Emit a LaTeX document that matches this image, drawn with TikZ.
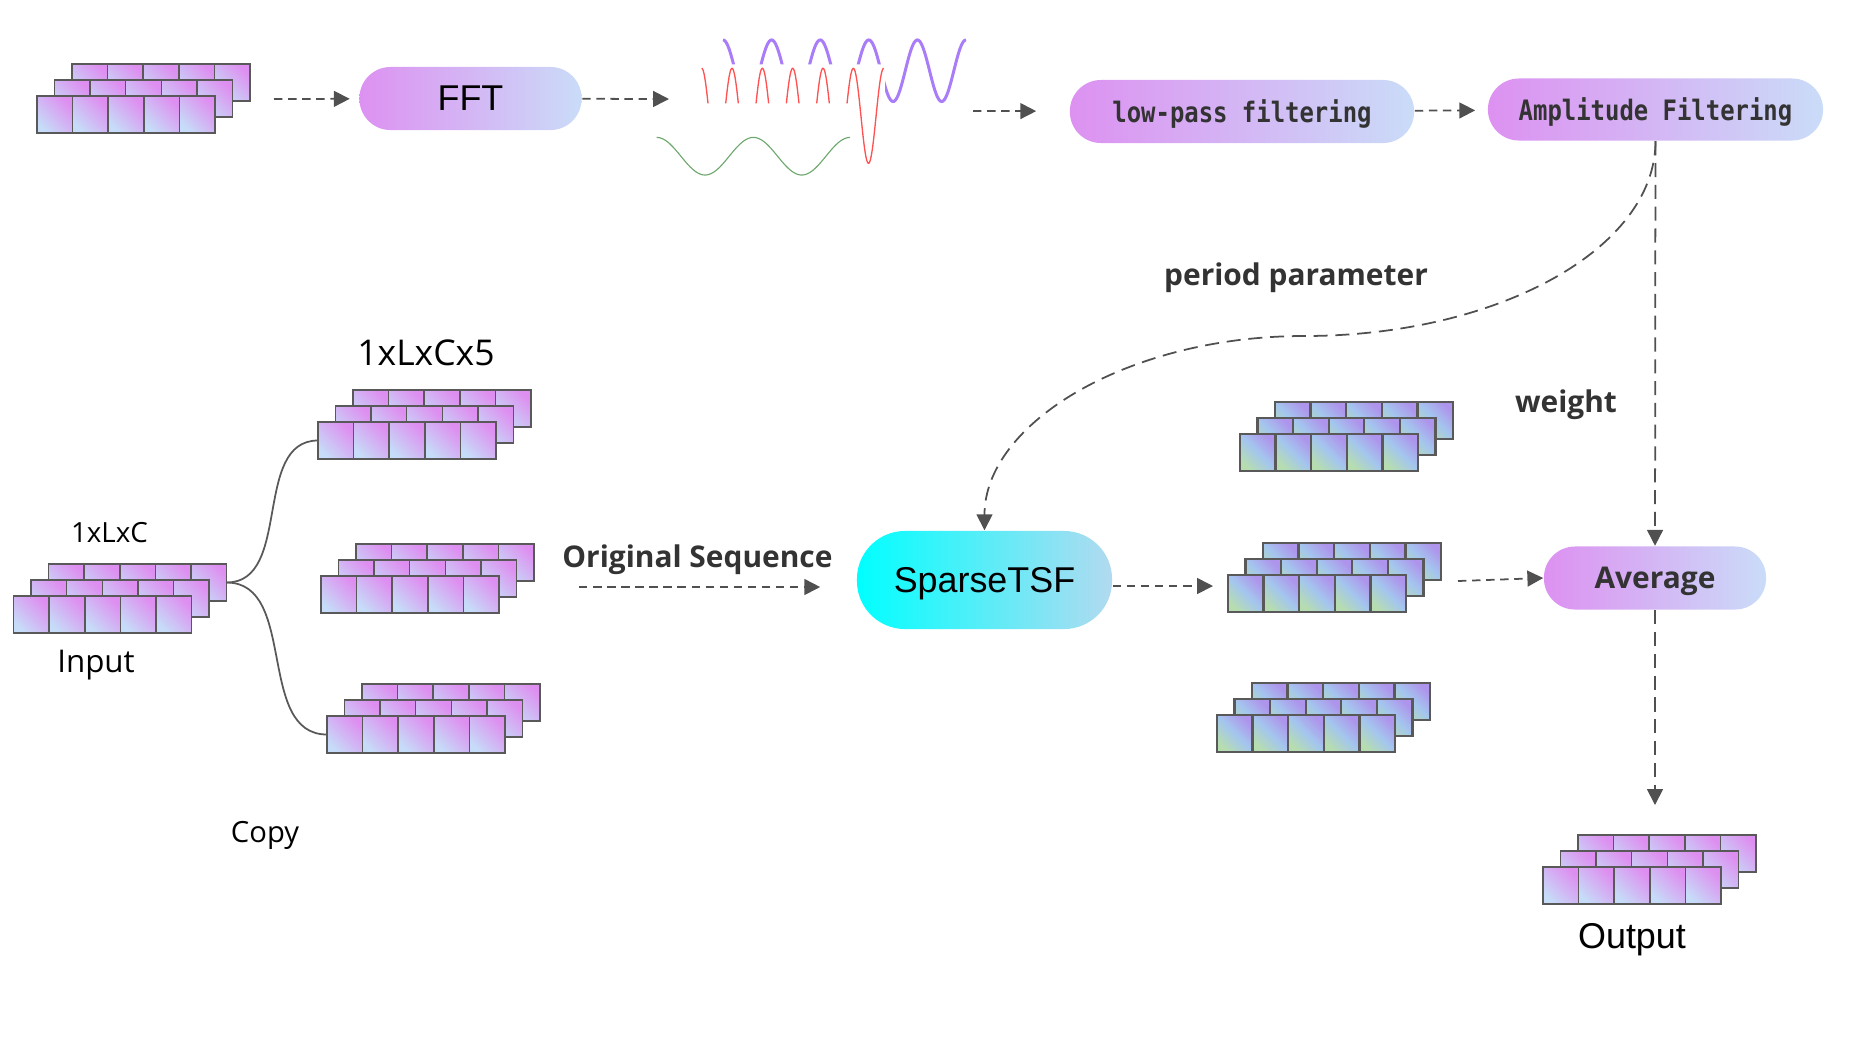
\documentclass[tikz,border=0pt]{standalone}
\usepackage{fontspec}
\setmainfont{Liberation Sans}
\newfontfamily\labelfont{Open Sans}
\newfontfamily\codefont{DejaVu Sans Mono}[FakeStretch=0.85]
\usetikzlibrary{arrows.meta,positioning}

\definecolor{pillL}{HTML}{DD91F1}
\definecolor{pillR}{HTML}{CADCF8}
\definecolor{tsfL}{HTML}{00FFFF}
\definecolor{tsfR}{HTML}{B2DAF0}
\definecolor{cellpink}{HTML}{DE8EF0}
\definecolor{cellblue}{HTML}{C6DCF8}
\definecolor{cellgreen}{HTML}{B6DDB0}
\definecolor{cellsky}{HTML}{A4C6EE}
\definecolor{cellviolet}{HTML}{AE94EC}
\definecolor{edgegray}{HTML}{595959}
\definecolor{arrowgray}{HTML}{505050}
\definecolor{txtgray}{HTML}{333333}
\definecolor{wavepurple}{HTML}{A97CF8}
\definecolor{wavered}{HTML}{FF5252}
\definecolor{wavegreen}{HTML}{6EA86E}

\tikzset{
  pcell/.style={draw=edgegray, line width=0.45pt, bottom color=cellblue, top color=cellpink, shading angle=-45},
  tcell/.style={draw=edgegray, line width=0.65pt, bottom color=cellgreen, top color=cellviolet, middle color=cellsky, shading angle=-45},
  pill/.style={rounded corners=3.1mm, inner sep=0pt, minimum height=6.3mm, text depth=0pt, left color=pillL, right color=pillR, font=\fontsize{10.2}{12}\selectfont},
  codepill/.style={pill, text=txtgray, font=\codefont\bfseries\fontsize{8}{10}\selectfont},
  tsfpill/.style={pill, rounded corners=4.8mm, minimum width=25.5mm, minimum height=9.8mm, left color=tsfL, right color=tsfR},
  boldlabel/.style={text=txtgray, font=\labelfont\bfseries\fontsize{8.5}{10}\selectfont, anchor=base},
  dimlabel/.style={font=\labelfont\fontsize{#1}{12}\selectfont, anchor=base},
  dashedarrow/.style={draw=arrowgray, line width=0.5pt, dash pattern=on 2.4pt off 1.6pt, ->},
  dashedlong/.style={dashedarrow, dash pattern=on 4pt off 2.2pt},
  branch/.style={draw=edgegray, line width=0.5pt},
}

% three layers of five cells, front layer bottom-left at (#2,#3)
\newcommand{\cellstack}[4]{%
  \foreach \lay in {2,1,0}
    \foreach \col in {0,...,4}
      \draw[#4] ({#2+17.5*\lay+35.6*\col},{#3-16*\lay}) rectangle ++(35.6,-37);
  \coordinate (#1-w) at (#2,{#3-18.5});
  \coordinate (#1-e) at ({#2+35+178},{#3-50.5});
}

\begin{document}
\begin{tikzpicture}[x=0.01cm, y=-0.01cm, >={Triangle[length=4.5pt,width=4.5pt]}]
    \useasboundingbox (0,0) rectangle (1865,1041);

    % stacks
    \cellstack{tl}{37}{133}{pcell}
    \cellstack{in}{13.6}{633}{pcell}
    \cellstack{ca}{318}{459}{pcell}
    \cellstack{cb}{321}{613}{pcell}
    \cellstack{cc}{327}{753}{pcell}
    \cellstack{ta}{1240}{471}{tcell}
    \cellstack{tb}{1228}{612}{tcell}
    \cellstack{tc}{1217}{752}{tcell}
    \cellstack{out}{1543}{904}{pcell}

    % spectrum sketch
    \begin{scope}
      \clip (700,0) -- (1000,0) -- (1000,200) -- (885,200) -- (885,64.3) -- (700,64.3) -- cycle;
      \draw[wavepurple, line width=0.85pt] plot[domain=723:966, samples=200] (\x, {70.7-30.8*cos((\x-723)/48.6*360)});
    \end{scope}
    \begin{scope}
      \clip (690,0) -- (900,0) -- (900,200) -- (848,200) -- (848,103.3) -- (690,103.3) -- cycle;
      \draw[wavered, line width=0.38pt] plot[domain=701.7:883.7, samples=300] (\x, {115.8-47.5*cos((\x-701.7)/30.33*360)});
    \end{scope}
    \draw[wavegreen, line width=0.32pt] plot[domain=656.7:850, samples=150] (\x, {156.2-18.8*cos((\x-656.7)/96.7*360)});

    % blocks
    \node[pill, minimum width=22.2mm] (fft) at (470.5,98.5) {FFT};
    \node[codepill, minimum width=34.4mm] (lowpass) at (1242,111.5) {low-pass filtering};
    \node[codepill, minimum width=33.5mm, minimum height=6.2mm] (amp) at (1655.5,109.5) {Amplitude Filtering};
    \node[tsfpill] (sparse) at (984.5,580) {SparseTSF};
    \node[pill, minimum width=22.2mm, text=txtgray, font=\labelfont\bfseries\fontsize{8.5}{10}\selectfont] (avg) at (1655,578) {Average};

    % labels
    \node[boldlabel] (pplabel) at (1296,285) {period parameter};
    \node[boldlabel] (wlabel) at (1566,412) {weight};
    \node[boldlabel] (seqlabel) at (697.5,567) {Original Sequence};
    \node[dimlabel=10.1] (dimcopies) at (426,365) {1xLxCx5};
    \node[dimlabel=7.9] (diminput) at (109.5,542) {1xLxC};
    \node[dimlabel=8.9] (inlabel) at (96,672) {Input};
    \node[dimlabel=8.3] (copylabel) at (265,842) {Copy};
    \node[anchor=base, font=\fontsize{10.2}{12}\selectfont] (outlabel) at (1632,948) {Output};

    % free ends
    \coordinate (tl-out) at (274,99);
    \coordinate (wave-in) at (669,99);
    \coordinate (wave-out) at (973,111);
    \coordinate (ppbend) at (1304,336);
    \coordinate (seq-start) at (579,587);
    \coordinate (tb-in) at (1213,586);
    \coordinate (tb-out) at (1458,581);
    \coordinate (out-in) at (1655,805);

    % copies
    \draw[branch] (in-e) to[out=0,in=180] (ca-w);
    \draw[branch] (in-e) to[out=0,in=180] (cc-w);

    % flow
    \draw[dashedarrow, shorten >=0.9mm] (tl-out) -- (fft);
    \draw[dashedarrow] (fft) -- (wave-in);
    \draw[dashedarrow, shorten >=3.3mm] (wave-out) -- (lowpass);
    \draw[dashedarrow, shorten >=1.2mm] (lowpass) -- (amp);
    \draw[dashedlong] (amp) -- (avg);
    \draw[dashedlong] (amp.south) .. controls +(0,108) and +(193,0) .. (ppbend)
        .. controls +(-176,0) and +(0,-107) .. (sparse.north);
    \draw[dashedarrow, shorten >=3.6mm] (seq-start) -- (seq-start -| sparse.west);
    \draw[dashedarrow] (sparse.east |- tb-in) -- (tb-in);
    \draw[dashedarrow] (tb-out) -- (avg.west);
    \draw[dashedlong] (avg) -- (out-in);
\end{tikzpicture}
\end{document}
